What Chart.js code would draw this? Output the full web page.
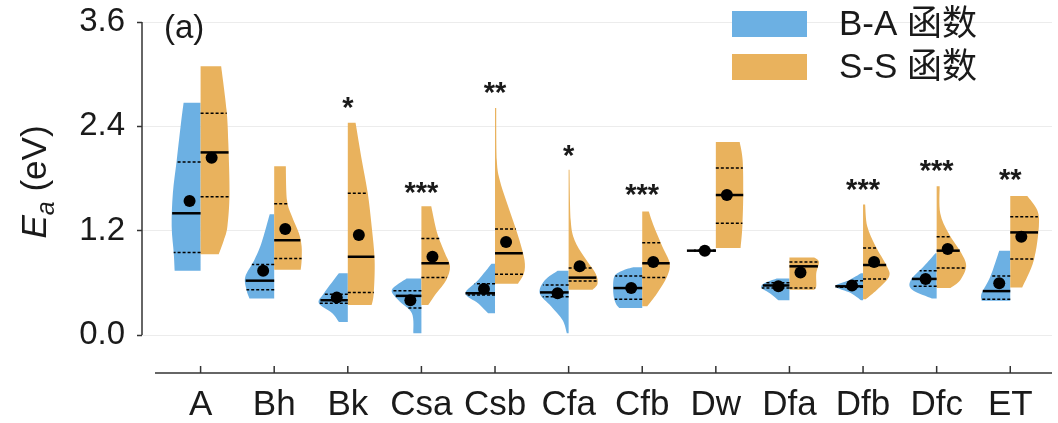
<!DOCTYPE html>
<html>
<head>
<meta charset="utf-8">
<script src="https://cdn.jsdelivr.net/npm/chart.js@4.4.1/dist/chart.umd.min.js"></script>
<style>
html, body { margin: 0; padding: 0; background: #ffffff; }
#wrap { width: 1058px; height: 423px; position: relative; }
</style>
</head>
<body>
<div id="wrap"><canvas id="c"></canvas></div>
<script>
// ---------------- DATA ----------------
const categories = ['A', 'Bh', 'Bk', 'Csa', 'Csb', 'Cfa', 'Cfb', 'Dw', 'Dfa', 'Dfb', 'Dfc', 'ET'];
const seriesNames = ['B-A 函数', 'S-S 函数'];
const yTickValues = [0.0, 1.2, 2.4, 3.6];

// B-A function: summary statistics (eV)
const baMean   = [1.54, 0.74, 0.43, 0.40, 0.53, 0.48, 0.54, 0.97, 0.56, 0.57, 0.645, 0.595];
const baQ1     = [0.95, 0.52, 0.365, 0.31, 0.46, 0.44, 0.41, 0.965, 0.54, 0.55, 0.56, 0.41];
const baMedian = [1.40, 0.625, 0.40, 0.45, 0.48, 0.49, 0.54, 0.97, 0.57, 0.56, 0.645, 0.505];
const baQ3     = [1.99, 0.81, 0.47, 0.51, 0.59, 0.575, 0.68, 0.975, 0.60, 0.625, 0.74, 0.68];

// S-S function: summary statistics (eV)
const ssMean   = [2.04, 1.22, 1.15, 0.90, 1.07, 0.79, 0.84, 1.61, 0.72, 0.84, 0.99, 1.13];
const ssQ1     = [1.59, 0.88, 0.49, 0.66, 0.70, 0.62, 0.66, 1.285, 0.54, 0.645, 0.77, 0.875];
const ssMedian = [2.10, 1.09, 0.90, 0.825, 0.94, 0.66, 0.825, 1.61, 0.79, 0.805, 0.97, 1.18];
const ssQ3     = [2.55, 1.51, 1.63, 1.11, 1.22, 0.77, 1.06, 1.92, 0.84, 1.00, 1.13, 1.36];

// Density outlines: [Ea value, relative density (0..1)], from top to bottom
const baDensity = [
  [[2.67,0.57],[2.40,0.67],[2.01,0.80],[1.63,0.93],[1.25,0.97],[0.94,0.90],[0.74,0.87]],
  [[1.39,0.15],[1.055,0.43],[0.86,0.67],[0.67,0.97],[0.52,0.93],[0.42,0.83]],
  [[0.71,0.30],[0.48,0.80],[0.365,0.97],[0.25,0.52],[0.15,0.30]],
  [[0.65,0.50],[0.52,0.99],[0.40,0.77],[0.25,0.32],[0.02,0.27]],
  [[0.82,0.12],[0.63,0.57],[0.48,0.99],[0.365,0.57],[0.25,0.23]],
  [[0.74,0.37],[0.63,0.80],[0.48,0.97],[0.33,0.59],[0.17,0.20],[0.02,0.06]],
  [[0.78,0.30],[0.74,0.67],[0.67,0.94],[0.48,0.97],[0.365,0.89],[0.31,0.77]],
  [[0.98,0.50],[0.97,0.97],[0.96,0.50]],
  [[0.65,0.43],[0.59,0.87],[0.54,0.93],[0.48,0.66],[0.40,0.37]],
  [[0.71,0.07],[0.63,0.47],[0.56,0.93],[0.48,0.40],[0.40,0.07]],
  [[0.94,0.04],[0.79,0.43],[0.63,0.87],[0.52,0.82],[0.42,0.16]],
  [[0.97,0.37],[0.67,0.67],[0.48,0.96],[0.395,0.96]]
];
const ssDensity = [
  [[3.09,0.69],[2.59,0.87],[2.21,0.93],[1.63,0.97],[1.25,0.90],[1.09,0.78],[0.93,0.61]],
  [[1.94,0.39],[1.55,0.43],[1.36,0.60],[1.17,0.83],[1.02,0.92],[0.86,0.92],[0.75,0.89]],
  [[2.44,0.26],[2.01,0.47],[1.63,0.67],[1.25,0.80],[0.86,0.90],[0.48,0.87],[0.345,0.80]],
  [[1.48,0.33],[1.17,0.53],[0.94,0.79],[0.79,0.96],[0.63,0.83],[0.48,0.50],[0.345,0.23]],
  [[2.61,0.04],[2.01,0.06],[1.78,0.16],[1.55,0.37],[1.32,0.60],[1.09,0.82],[0.86,0.99],[0.71,0.97],[0.59,0.77]],
  [[1.90,0.03],[1.32,0.07],[1.09,0.20],[0.90,0.52],[0.71,0.90],[0.59,0.97],[0.52,0.80]],
  [[1.42,0.22],[1.25,0.39],[1.02,0.67],[0.825,0.92],[0.67,0.83],[0.48,0.50],[0.33,0.17]],
  [[2.22,0.80],[2.01,0.90],[1.63,0.92],[1.25,0.89],[1.00,0.83]],
  [[0.89,0.83],[0.84,0.99],[0.71,0.90],[0.56,0.90],[0.52,0.83]],
  [[1.50,0.07],[1.25,0.14],[1.02,0.42],[0.79,0.80],[0.67,0.87],[0.52,0.47],[0.41,0.09]],
  [[1.71,0.10],[1.40,0.12],[1.17,0.40],[0.94,0.83],[0.79,0.99],[0.63,0.79],[0.54,0.46]],
  [[1.60,0.57],[1.44,0.90],[1.25,0.96],[0.86,0.79],[0.545,0.40]]
];

// Significance markers and the Ea level at which they are shown
const significance = ['', '', '*', '***', '**', '*', '***', '', '', '***', '***', '**'];
const significanceLevel = [null, null, 2.70, 1.73, 2.88, 2.15, 1.70, null, null, 1.76, 1.98, 1.88];

// ---------------- STYLE ----------------
const FONT = '"Liberation Sans", Arial, "Noto Sans CJK SC", sans-serif';
const COLOR_BA = '#6cb0e3';
const COLOR_SS = '#e9b25d';
const TEXT = '#1a1a1a';
const SPINE = '#333333';
const MAX_HALF = 0.405;   // half-violin max width in category units
const DODGE = 0.15;       // mean dot offset in category units

Chart.defaults.font.family = FONT;

function widthAt(profile, v) {
  if (v >= profile[0][0]) return profile[0][1];
  for (let k = 0; k < profile.length - 1; k++) {
    const a = profile[k], b = profile[k + 1];
    if (v <= a[0] && v >= b[0]) {
      const t = (a[0] - v) / (a[0] - b[0] || 1);
      return a[1] + (b[1] - a[1]) * t;
    }
  }
  return profile[profile.length - 1][1];
}

function drawHalf(ctx, xc, side, profile, hw, yScale, color) {
  const pts = profile.map(p => ({ x: xc + side * p[1] * hw, y: yScale.getPixelForValue(p[0]) }));
  ctx.beginPath();
  ctx.moveTo(xc, pts[0].y);
  ctx.lineTo(pts[0].x, pts[0].y);
  for (let k = 0; k < pts.length - 1; k++) {
    const p0 = pts[Math.max(k - 1, 0)], p1 = pts[k], p2 = pts[k + 1], p3 = pts[Math.min(k + 2, pts.length - 1)];
    ctx.bezierCurveTo(
      p1.x + (p2.x - p0.x) / 6, p1.y + (p2.y - p0.y) / 6,
      p2.x - (p3.x - p1.x) / 6, p2.y - (p3.y - p1.y) / 6,
      p2.x, p2.y);
  }
  ctx.lineTo(xc, pts[pts.length - 1].y);
  ctx.closePath();
  ctx.fillStyle = color;
  ctx.fill();
}

function drawStatLine(ctx, xc, side, profile, hw, yScale, v, dashed) {
  const w = widthAt(profile, v) * hw;
  const py = yScale.getPixelForValue(v);
  ctx.save();
  ctx.beginPath();
  ctx.strokeStyle = '#000';
  if (dashed) { ctx.setLineDash([3, 2]); ctx.lineWidth = 1.5; }
  else { ctx.setLineDash([]); ctx.lineWidth = 2.5; }
  ctx.moveTo(xc, py);
  ctx.lineTo(xc + side * w, py);
  ctx.stroke();
  ctx.restore();
}

const violinPlugin = {
  id: 'violins',
  beforeDatasetsDraw(chart) {
    const { ctx, scales: { x, y }, chartArea } = chart;
    const hw = x.getPixelForValue(MAX_HALF) - x.getPixelForValue(0);
    ctx.save();
    // spines
    ctx.strokeStyle = SPINE;
    ctx.lineWidth = 1.5;
    ctx.beginPath();
    ctx.moveTo(chartArea.left, y.getPixelForValue(3.6));
    ctx.lineTo(chartArea.left, y.getPixelForValue(0));
    ctx.stroke();
    ctx.beginPath();
    ctx.moveTo(155, chartArea.bottom);
    ctx.lineTo(chartArea.right, chartArea.bottom);
    ctx.stroke();
    categories.forEach((c, i) => {
      const px = x.getPixelForValue(i);
      ctx.beginPath();
      ctx.moveTo(px, chartArea.bottom);
      ctx.lineTo(px, chartArea.bottom - 7);
      ctx.stroke();
    });
    // violins
    categories.forEach((c, i) => {
      const xc = x.getPixelForValue(i);
      drawHalf(ctx, xc, -1, baDensity[i], hw, y, COLOR_BA);
      drawHalf(ctx, xc, 1, ssDensity[i], hw, y, COLOR_SS);
    });
    categories.forEach((c, i) => {
      const xc = x.getPixelForValue(i);
      drawStatLine(ctx, xc, -1, baDensity[i], hw, y, baQ1[i], true);
      drawStatLine(ctx, xc, -1, baDensity[i], hw, y, baQ3[i], true);
      drawStatLine(ctx, xc, -1, baDensity[i], hw, y, baMedian[i], false);
      drawStatLine(ctx, xc, 1, ssDensity[i], hw, y, ssQ1[i], true);
      drawStatLine(ctx, xc, 1, ssDensity[i], hw, y, ssQ3[i], true);
      drawStatLine(ctx, xc, 1, ssDensity[i], hw, y, ssMedian[i], false);
    });
    ctx.restore();
  },
  afterDatasetsDraw(chart) {
    const { ctx, scales: { x, y } } = chart;
    ctx.save();
    // significance stars
    ctx.fillStyle = TEXT;
    ctx.font = 'bold 29px ' + FONT;
    ctx.textAlign = 'center';
    ctx.textBaseline = 'alphabetic';
    categories.forEach((c, i) => {
      if (!significance[i]) return;
      ctx.fillText(significance[i], x.getPixelForValue(i), y.getPixelForValue(significanceLevel[i]) + 17);
    });
    // panel label
    ctx.font = '33px ' + FONT;
    ctx.textAlign = 'left';
    ctx.textBaseline = 'middle';
    ctx.fillText('(a)', 164, 29);
    // legend
    const legendRows = [[COLOR_BA, 11], [COLOR_SS, 54]];
    ctx.font = '35px ' + FONT;
    legendRows.forEach((r, k) => {
      ctx.fillStyle = r[0];
      ctx.fillRect(732, r[1], 75, 26);
      ctx.fillStyle = TEXT;
      ctx.fillText(seriesNames[k], 839, r[1] + 14);
    });
    // y axis title  E_a (eV)
    ctx.translate(46, 182);
    ctx.rotate(-Math.PI / 2);
    ctx.textBaseline = 'alphabetic';
    ctx.textAlign = 'left';
    const fE = 'italic 35px ' + FONT, fSub = 'italic 25px ' + FONT, fR = '35px ' + FONT;
    ctx.font = fE; const wE = ctx.measureText('E').width;
    ctx.font = fSub; const wA = ctx.measureText('a').width;
    ctx.font = fR; const wR = ctx.measureText(' (eV)').width;
    let sx = -(wE + wA + wR) / 2;
    ctx.font = fE; ctx.fillText('E', sx, 0); sx += wE;
    ctx.font = fSub; ctx.fillText('a', sx, 8); sx += wA;
    ctx.font = fR; ctx.fillText(' (eV)', sx, 0);
    ctx.restore();
  }
};

new Chart(document.getElementById('c'), {
  type: 'scatter',
  data: {
    datasets: [
      {
        label: seriesNames[0],
        data: baMean.map((v, i) => ({ x: i - DODGE, y: v })),
        pointRadius: 6, pointBackgroundColor: '#000', pointBorderWidth: 0, showLine: false
      },
      {
        label: seriesNames[1],
        data: ssMean.map((v, i) => ({ x: i + DODGE, y: v })),
        pointRadius: 6, pointBackgroundColor: '#000', pointBorderWidth: 0, showLine: false
      }
    ]
  },
  options: {
    responsive: true,
    maintainAspectRatio: false,
    animation: false,
    events: [],
    layout: { padding: { top: 22, right: 0, bottom: 0, left: 0 } },
    plugins: { legend: { display: false }, tooltip: { enabled: false } },
    scales: {
      x: {
        type: 'linear',
        min: -0.796, max: 11.567,
        afterBuildTicks: (axis) => { axis.ticks = categories.map((c, i) => ({ value: i })); },
        afterFit: (axis) => { axis.height = 50; axis.paddingLeft = 0; axis.paddingRight = 0; },
        grid: { display: false, drawTicks: false },
        border: { display: false },
        ticks: {
          autoSkip: false, maxRotation: 0, minRotation: 0, padding: 11,
          color: TEXT, font: { size: 35 },
          callback: (v) => categories[v]
        }
      },
      y: {
        type: 'linear',
        min: -0.437, max: 3.6,
        afterBuildTicks: (axis) => { axis.ticks = yTickValues.map(v => ({ value: v })); },
        afterFit: (axis) => { axis.width = 142; axis.paddingTop = 0; axis.paddingBottom = 0; },
        grid: { color: '#ececec', lineWidth: 1, tickColor: SPINE, tickLength: 5, tickWidth: 1.5 },
        border: { display: false },
        ticks: {
          padding: 12, color: TEXT, font: { size: 33 },
          callback: (v) => Number(v).toFixed(1)
        }
      }
    }
  },
  plugins: [violinPlugin]
});
</script>
</body>
</html>
